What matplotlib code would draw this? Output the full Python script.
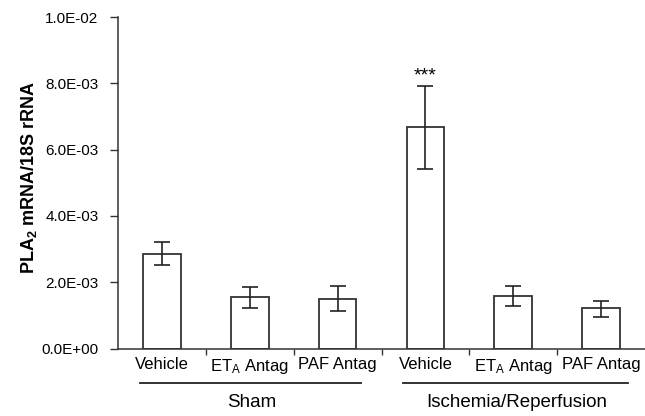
import matplotlib.pyplot as plt
import numpy as np
from matplotlib.ticker import FuncFormatter

plt.rcParams['font.family'] = ['Liberation Sans', 'DejaVu Sans']
plt.rcParams['mathtext.fontset'] = 'custom'
plt.rcParams['mathtext.rm'] = 'Liberation Sans'
plt.rcParams['mathtext.it'] = 'Liberation Sans'
plt.rcParams['mathtext.bf'] = 'Liberation Sans:bold'

categories = ['Vehicle', r'ET$_\mathrm{A}$ Antag', 'PAF Antag',
              'Vehicle', r'ET$_\mathrm{A}$ Antag', 'PAF Antag']
groups = ['Sham', 'Ischemia/Reperfusion']
means = [2.84e-3, 1.57e-3, 1.49e-3, 6.69e-3, 1.58e-3, 1.23e-3]
err_hi = [3.23e-3, 1.85e-3, 1.89e-3, 7.92e-3, 1.89e-3, 1.44e-3]
err_lo = [2.52e-3, 1.22e-3, 1.13e-3, 5.41e-3, 1.28e-3, 0.95e-3]

x = np.arange(len(means))
means = np.array(means)
yerr = [means - np.array(err_lo), np.array(err_hi) - means]

fig = plt.figure(figsize=(6.45, 4.16), dpi=100)
ax = fig.add_axes([0.183, 0.162, 0.817, 0.797])

ax.bar(x, means, width=0.43, color='white', edgecolor='#333333', linewidth=1.3)
ax.errorbar(x, means, yerr=yerr, fmt='none', ecolor='#222222',
            elinewidth=1.2, capsize=5.5, capthick=1.2)

ax.text(3, err_hi[3] + 0.05e-3, '***', ha='center', va='bottom', fontsize=14)

ax.set_xlim(-0.5, 5.5)
ax.set_ylim(0, 1.0e-2)
ax.set_yticks(np.arange(0, 0.0101, 0.002))
ax.yaxis.set_major_formatter(FuncFormatter(lambda v, p: f'{v:.1E}'))

ax.set_xticks(x)
ax.set_xticklabels(categories, fontsize=12)
ax.tick_params(axis='x', which='major', length=0, pad=6)
ax.set_xticks(np.arange(0.5, 5, 1), minor=True)
ax.tick_params(axis='x', which='minor', length=4, width=1, color='#333333')
ax.tick_params(axis='y', length=6, width=1, color='#333333', labelsize=11, pad=8)

for s in ['top', 'right']:
    ax.spines[s].set_visible(False)
for s in ['left', 'bottom']:
    ax.spines[s].set_linewidth(1.1)
    ax.spines[s].set_color('#333333')

ax.set_ylabel(r'PLA$_\mathbf{2}$ mRNA/18S rRNA', fontsize=13, fontweight='bold')
ax.yaxis.set_label_coords(-0.15, 0.517)

tr = ax.get_xaxis_transform()
spans = [(-0.25, 2.27), (2.75, 5.31)]
for (a, b), g in zip(spans, groups):
    ax.plot([a, b], [-0.103, -0.103], color='#222222', lw=1.3, transform=tr, clip_on=False)
    ax.text((a + b) / 2 + 0.01, -0.163, g, ha='center', va='center', fontsize=13.5, transform=tr)

fig.savefig('out.png', dpi=100)
